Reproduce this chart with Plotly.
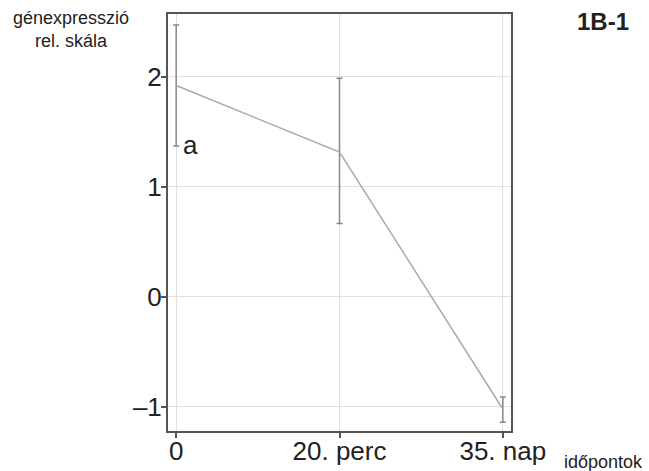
import plotly.graph_objects as go

categories = ["0", "20. perc", "35. nap"]
values = [1.92, 1.315, -1.02]
err_up = [0.55, 0.67, 0.11]
err_down = [0.55, 0.65, 0.12]
y_tickvals = [-1, 0, 1, 2]
y_ticktext = ["–1", "0", "1", "2"]

fig = go.Figure()
fig.add_trace(go.Scatter(
    x=categories, y=values, mode="lines",
    line=dict(color="#aaaaaa", width=1.5),
    error_y=dict(type="data", symmetric=False, array=err_up, arrayminus=err_down,
                 color="#888888", thickness=1.5, width=3),
    showlegend=False, hoverinfo="skip"))

font = "Liberation Sans, Arial, sans-serif"
L, R, T, B = 168, 138, 14, 40
W = 649 - L - R
H = 471 - T - B
def px(xp): return (xp - L) / W
def py(yp): return (471 - B - yp) / H

fig.update_layout(
    width=649, height=471,
    margin=dict(l=L, r=R, t=T, b=B, autoexpand=False),
    paper_bgcolor="white", plot_bgcolor="white",
    font=dict(family=font, color="#222222"),
    xaxis=dict(type="category", range=[-0.05, 2.05], showgrid=True, gridcolor="#e0e0e0",
               gridwidth=1, showline=True, linecolor="#555555", linewidth=2, mirror=True,
               ticks="outside", ticklen=5, tickcolor="#555555", tickwidth=1.5,
               ticklabelstandoff=-9,
               tickfont=dict(size=26, family=font, color="#222222"), zeroline=False,
               automargin=False),
    yaxis=dict(range=[-1.22, 2.57], tickvals=y_tickvals, ticktext=y_ticktext,
               showgrid=True, gridcolor="#e0e0e0", gridwidth=1, showline=True,
               linecolor="#555555", linewidth=2, mirror=True,
               ticks="outside", ticklen=5, tickcolor="#555555", tickwidth=1.5,
               ticklabelstandoff=-6,
               tickfont=dict(size=26, family=font, color="#222222"), zeroline=False,
               automargin=False),
    annotations=[
        dict(text="génexpresszió<br>rel. skála", x=px(71), y=py(30), xref="paper", yref="paper",
             xanchor="center", yanchor="middle", showarrow=False,
             font=dict(size=18, family=font)),
        dict(text="<b>1B-1</b>", x=px(603), y=py(22), xref="paper", yref="paper",
             xanchor="center", yanchor="middle", showarrow=False,
             font=dict(size=24, family=font)),
        dict(text="időpontok", x=px(603), y=py(462), xref="paper", yref="paper",
             xanchor="center", yanchor="middle", showarrow=False,
             font=dict(size=18, family=font)),
        dict(text="a", x="0", y=1.38, xref="x", yref="y", showarrow=False,
             xanchor="left", yanchor="middle", xshift=5, font=dict(size=26, family=font)),
    ],
)

fig.write_html("out.html")
